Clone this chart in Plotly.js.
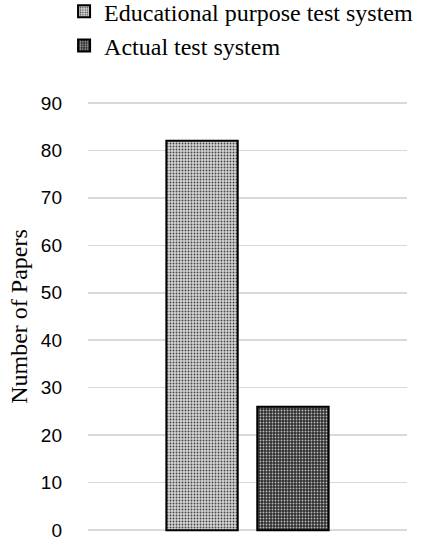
<!DOCTYPE html>
<html>
<head>
<meta charset="utf-8">
<script src="https://cdn.plot.ly/plotly-3.0.1.min.js"></script>
<style>html,body{margin:0;padding:0;background:#fff;}#chart{width:429px;height:550px;}</style>
</head>
<body>
<div id="chart"></div>
<script>
const categories = ["Test system"];
const seriesNames = ["Educational purpose test system", "Actual test system"];
const educationalValues = [82];
const actualValues = [26];
const yTicks = [0, 10, 20, 30, 40, 50, 60, 70, 80, 90];

const traces = [
  {
    type: "bar", name: seriesNames[0], x: categories, y: educationalValues,
    offsetgroup: "a",
    marker: {
      color: "#c8c8c8",
      line: {color: "#000", width: 2},
      pattern: {shape: ".", fgcolor: "#444", bgcolor: "#d6d6d6", size: 3, solidity: 0.3, fillmode: "replace"}
    },
    hoverinfo: "none"
  },
  {
    type: "bar", name: seriesNames[1], x: categories, y: actualValues,
    offsetgroup: "b",
    marker: {
      color: "#404040",
      line: {color: "#000", width: 2},
      pattern: {shape: ".", fgcolor: "#bdbdbd", bgcolor: "#2e2e2e", size: 3, solidity: 0.3, fillmode: "replace"}
    },
    hoverinfo: "none"
  }
];

const layout = {
  width: 429, height: 550,
  margin: {l: 88, r: 22, t: 100, b: 17, autoexpand: false},
  paper_bgcolor: "#fff", plot_bgcolor: "#fff",
  barmode: "group", bargap: 0.43, bargroupgap: 0.215,
  showlegend: true,
  legend: {
    x: -0.075, xanchor: "left", y: 1.256, yanchor: "top",
    orientation: "v",
    font: {family: "Liberation Serif, Times New Roman, serif", size: 24, color: "#000"},
    itemwidth: 30, tracegroupgap: 0,
    traceorder: "normal",
    bgcolor: "rgba(0,0,0,0)"
  },
  xaxis: {showticklabels: false, showgrid: false, zeroline: false, showline: false, ticks: ""},
  yaxis: {
    range: [-0.6, 90.6], tickvals: yTicks, ticktext: yTicks.map(String),
    showgrid: true, gridcolor: "#d9d9d9", gridwidth: 1.5,
    zeroline: false, showline: false, ticks: "",
    ticklen: 0, ticklabelstandoff: 25,
    tickfont: {family: "Liberation Sans, Arial, sans-serif", size: 19, color: "#000"},
    title: {text: "Number of Papers", font: {family: "Liberation Serif, Times New Roman, serif", size: 24, color: "#000"}, standoff: 6}
  }
};

Plotly.newPlot("chart", traces, layout, {staticPlot: true, displayModeBar: false});
</script>
</body>
</html>
